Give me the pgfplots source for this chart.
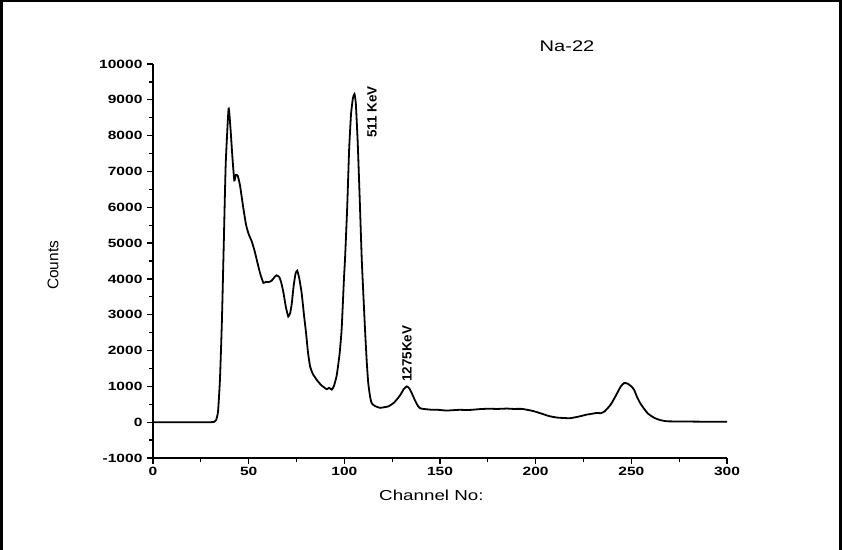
\documentclass[border=0pt]{standalone}
\usepackage{pgfplots}
\pgfplotsset{compat=1.18}
\usepackage{fontspec}
\setmainfont{Liberation Sans}
\begin{document}
\begin{tikzpicture}
\path[use as bounding box] (0,0) rectangle (842bp,550bp);
\draw[line width=2.5bp] (1.5bp,0) -- (1.5bp,549bp) -- (840.5bp,549bp) -- (840.5bp,0);
\begin{axis}[
  at={(153bp,92bp)}, anchor=south west,
  scale only axis, width=574bp, height=394bp,
  xmin=0, xmax=300, ymin=-1000, ymax=10000,
  axis x line=bottom, axis y line=left,
  axis line style={-, line width=1.3bp},
  every tick/.style={black, line width=1.3bp},
  tick align=outside,
  major tick length=6bp, minor tick length=3.5bp,
  xtick={0,50,...,300}, minor x tick num=1,
  ytick={-1000,0,...,10000}, minor y tick num=1,
  scaled y ticks=false, scaled x ticks=false,
  /pgf/number format/assume math mode=true,
  /pgf/number format/set thousands separator={},
  tick label style={font=\fontsize{12}{14}\selectfont\bfseries, xscale=1.3},
  xlabel={Channel No:}, ylabel={Counts},
  xlabel style={font=\fontsize{14.5}{17}\selectfont, xscale=1.3, at={(axis description cs:0.485,-0.094)}, anchor=center},
  ylabel style={font=\fontsize{15.5}{17}\selectfont, at={(axis description cs:-0.174,0.489)}, anchor=center},
  clip=false,
]
\addplot[black, line width=1.8bp, smooth, tension=0.3] coordinates {
(0,0) (10,0) (20,0) (30,0) (32,10) (33,60) (34,300) (35,1200) (36,2800) (37,5000) (38,7200) (39.5,8750) (40.5,8200) (41.5,7400) (42.5,6750) (43.3,6900) (44.3,6880) (45.5,6600) (47,6050) (48.6,5520) (50,5250) (51.6,5050) (53,4800) (54.2,4540) (56,4150) (57.7,3890) (59,3920) (60.3,3910) (62,3950) (63.5,4050) (64.6,4100) (66,4050) (67,3900) (68.2,3610) (69.5,3200) (70.7,2950) (71.7,3050) (72.5,3300) (73.5,3800) (74.5,4150) (75.4,4230) (76.5,4000) (77.7,3600) (79,2950) (80,2490) (81,1950) (82.1,1560) (83.5,1350) (85.6,1180) (88,1030) (90.8,920) (92,960) (93.4,910) (94.5,1000) (96,1300) (97.5,1900) (98.6,2600) (99.8,4000) (100.4,4600) (101.5,6000) (102.5,7600) (103.5,8600) (104.5,9050) (105.3,9160) (106,8900) (107,7800) (108,6300) (109.1,4550) (110,3500) (110.8,2600) (111.7,1700) (112.5,1090) (113.5,700) (114.3,530) (116,450) (118.7,400) (121,420) (123,440) (125.6,530) (127.4,630) (129.5,780) (131,920) (132.6,1000) (134,940) (135.5,780) (137,600) (138.5,450) (139.6,390) (141.3,370) (145,350) (149,345) (153.5,325) (160,345) (165,340) (170.9,365) (175,375) (180,370) (185,380) (188.3,370) (193,370) (198.8,310) (203,240) (207,170) (211,130) (215,115) (218,112) (222,150) (226.6,210) (230,240) (232,260) (234,250) (236,300) (239.2,490) (242,750) (244.5,1000) (246.2,1090) (248,1080) (250,1000) (251.5,900) (253,700) (255,500) (258.5,250) (262,120) (265,60) (268.5,25) (275,20) (285,15) (300,10)
};
\node[font=\fontsize{15.5}{17}\selectfont, xscale=1.3] at (axis cs:216.4,10490) {Na-22};
\node[rotate=90, font=\fontsize{13.5}{15}\selectfont\bfseries] at (axis cs:114.5,8655) {511 KeV};
\node[rotate=90, font=\fontsize{13.5}{15}\selectfont\bfseries] at (axis cs:132.8,1910) {1275KeV};
\end{axis}
\end{tikzpicture}
\end{document}
